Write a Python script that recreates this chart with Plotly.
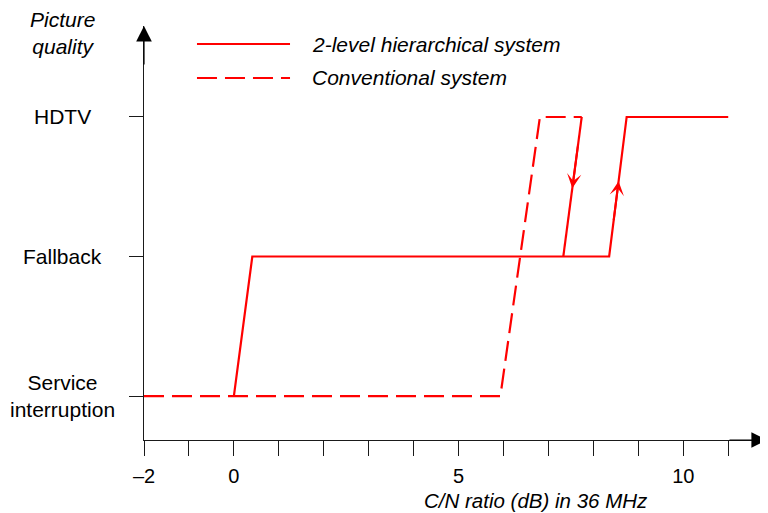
import plotly.graph_objects as go

# ---- data ----
quality_levels = [0, 1, 2]
quality_labels = ["Service<br>interruption", "Fallback", "HDTV"]

# 2-level hierarchical system (main path, rising C/N)
hier_x = [0.0, 0.41, 8.35, 8.74, 11.0]
hier_y = [0, 1, 1, 2, 2]
# 2-level hierarchical system (hysteresis, falling C/N)
hier_down_x = [7.74, 7.33]
hier_down_y = [2, 1]

# Conventional system
conv_x = [-2.0, 5.93, 6.81, 7.74]
conv_y = [0, 0, 2, 2]

x_tickvals = list(range(-2, 12))
x_ticktext = ["–2", "", "0", "", "", "", "", "5", "", "", "", "", "10", ""]

series_names = ["2-level hierarchical system", "Conventional system"]

RED = "#ff0000"
AX = "#1a1a1a"
FONT = "Liberation Sans, Arial, sans-serif"

X_RANGE = [-2, 11.885]
Y_RANGE = [-0.315, 2.652]

fig = go.Figure()
fig.add_trace(go.Scatter(x=hier_x, y=hier_y, mode="lines", name=series_names[0],
                         line=dict(color=RED, width=2.2), showlegend=False))
fig.add_trace(go.Scatter(x=hier_down_x, y=hier_down_y, mode="lines", name=series_names[0],
                         line=dict(color=RED, width=2.2), showlegend=False))
fig.add_trace(go.Scatter(x=conv_x, y=conv_y, mode="lines", name=series_names[1],
                         line=dict(color=RED, width=2.2, dash="20px,8px"), showlegend=False))

annotations = []

# direction arrows on hysteresis branches (positions interpolated along segments)
def along(xs, ys, level):
    x0, x1 = xs
    y0, y1 = ys
    t = (level - y0) / (y1 - y0)
    return x0 + (x1 - x0) * t

down_tip_y, down_tail_y = 1.49, 1.8
annotations.append(dict(x=along(hier_down_x, hier_down_y, down_tip_y), y=down_tip_y,
                        ax=along(hier_down_x, hier_down_y, down_tail_y), ay=down_tail_y,
                        xref="x", yref="y", axref="x", ayref="y", text="", showarrow=True,
                        arrowhead=3, arrowsize=1.2, arrowwidth=2, arrowcolor=RED))
up_seg_x, up_seg_y = hier_x[2:4], hier_y[2:4]
up_tip_y, up_tail_y = 1.54, 1.25
annotations.append(dict(x=along(up_seg_x, up_seg_y, up_tip_y), y=up_tip_y,
                        ax=along(up_seg_x, up_seg_y, up_tail_y), ay=up_tail_y,
                        xref="x", yref="y", axref="x", ayref="y", text="", showarrow=True,
                        arrowhead=3, arrowsize=1.2, arrowwidth=2, arrowcolor=RED))

# axis arrowheads
annotations.append(dict(x=1, y=0, xref="paper", yref="paper", ax=-40, ay=0, text="",
                        showarrow=True, arrowhead=2, arrowsize=2.6, arrowwidth=1.2, arrowcolor="black"))
annotations.append(dict(x=0, y=1, xref="paper", yref="paper", ax=0, ay=40, text="",
                        showarrow=True, arrowhead=2, arrowsize=2.6, arrowwidth=1.2, arrowcolor="black"))

# y category labels
for lvl, lab in zip(quality_levels, quality_labels):
    annotations.append(dict(x=-0.1314, y=lvl, xref="paper", yref="y", text=lab,
                            showarrow=False, xanchor="center", yanchor="middle", align="center",
                            font=dict(family=FONT, size=21, color="black")))

# axis titles
annotations.append(dict(x=-0.1314, y=0.983, xref="paper", yref="paper", text="<i>Picture<br>quality</i>",
                        showarrow=False, xanchor="center", yanchor="middle", align="center",
                        font=dict(family=FONT, size=21, color="black")))
annotations.append(dict(x=0.4455, y=-0.147, xref="paper", yref="paper",
                        text="<i>C/N ratio (dB) in 36 MHz</i>",
                        showarrow=False, xanchor="left", yanchor="middle",
                        font=dict(family=FONT, size=20.5, color="black")))

# legend
legend_y = [0.9565, 0.8744]
legend_dash = ["solid", "20px,8px"]
shapes = []
for name, ly, dsh in zip(series_names, legend_y, legend_dash):
    shapes.append(dict(type="line", xref="paper", yref="paper", x0=0.0849, x1=0.234, y0=ly, y1=ly,
                       line=dict(color=RED, width=2.2, dash=dsh)))
    annotations.append(dict(x=0.266, y=ly, xref="paper", yref="paper", text=f"<i>{name}</i>",
                            showarrow=False, xanchor="left", yanchor="middle",
                            font=dict(family=FONT, size=21, color="black")))

# page body adds an 8px margin: shrink the figure so the plot lands at the reference position
fig.update_layout(
    width=760, height=505,
    margin=dict(l=136, r=0, t=18, b=73),
    paper_bgcolor="white", plot_bgcolor="white",
    font=dict(family=FONT, size=20, color="black"),
    showlegend=False,
    annotations=annotations,
    shapes=shapes,
    xaxis=dict(range=X_RANGE, tickvals=x_tickvals, ticktext=x_ticktext,
               ticks="outside", ticklen=15, tickwidth=1, tickcolor=AX, ticklabelstandoff=3,
               showline=True, linecolor=AX, linewidth=1, showgrid=False, zeroline=False,
               tickfont=dict(family=FONT, size=20, color="black"), fixedrange=True),
    yaxis=dict(range=Y_RANGE, tickvals=quality_levels, showticklabels=False,
               ticks="outside", ticklen=14, tickwidth=1, tickcolor=AX,
               showline=True, linecolor=AX, linewidth=1, showgrid=False, zeroline=False,
               fixedrange=True),
)

fig.write_html("out.html", config={"displayModeBar": False})
